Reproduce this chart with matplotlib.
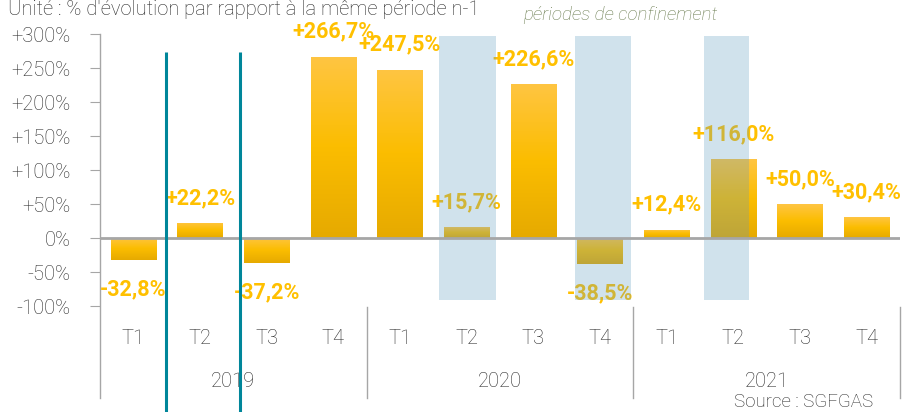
import matplotlib
matplotlib.use("Agg")
import matplotlib.pyplot as plt
import numpy as np
from matplotlib.colors import LinearSegmentedColormap
from matplotlib import transforms

# ---- data ----
quarters = ["T1", "T2", "T3", "T4"] * 3
years = ["2019", "2020", "2021"]
values = [-32.8, 22.2, -37.2, 266.7, 247.5, 15.7, 226.6, -38.5, 12.4, 116.0, 50.0, 30.4]
labels = ["-32,8%", "+22,2%", "-37,2%", "+266,7%", "+247,5%", "+15,7%", "+226,6%",
          "-38,5%", "+12,4%", "+116,0%", "+50,0%", "+30,4%"]
yticks = [-100, -50, 0, 50, 100, 150, 200, 250, 300]
ytick_labels = ["-100%", "-50%", "0%", "+50%", "+100%", "+150%", "+200%", "+250%", "+300%"]
# confinement periods (category index spans)
conf_start = [4.585, 6.625, 8.56]
conf_end = [5.44, 7.465, 9.235]
conf_low, conf_high = -91, 297

plt.rcParams['font.family'] = ['Roboto', 'DejaVu Sans']

fig = plt.figure(figsize=(9.02, 4.12), dpi=100)
ax = fig.add_axes([100 / 902, 1 - 306 / 412, 800 / 902, 272 / 412])

x = np.arange(len(values))
bars = ax.bar(x, values, width=0.68, color="#fbbd00", zorder=2)

cmap = LinearSegmentedColormap.from_list("g", ["#ffc542", "#fbbd00", "#e6aa00"])
grad = np.linspace(0, 1, 100).reshape(-1, 1)
for b in bars:
    x0, y0 = b.get_x(), b.get_y()
    w, h = b.get_width(), b.get_height()
    ylo, yhi = min(y0, y0 + h), max(y0, y0 + h)
    im = ax.imshow(grad, cmap=cmap, extent=(x0, x0 + w, ylo, yhi), origin="upper",
                   aspect="auto", zorder=2.1)
    im.set_clip_path(b)

# value labels
for xi, v, lab in zip(x, values, labels):
    off = 18 if v >= 0 else -21
    ax.annotate(lab, (xi, v), xytext=(0, off), textcoords="offset points",
                ha="center", va="center", fontsize=15.5, fontweight="bold",
                color="#ffc000", zorder=3)

# confinement bands (over bars)
for s, e in zip(conf_start, conf_end):
    ax.fill_between([s, e], conf_low, conf_high, color="#5f9bbe", alpha=0.29,
                    linewidth=0, zorder=4)

ax.axhline(0, color="#a6a6a6", lw=2, zorder=5)

ax.set_xlim(-0.5, 11.5)
ax.set_ylim(-100, 300)
ax.set_yticks(yticks)
ax.set_yticklabels(ytick_labels, fontsize=14.5, color="#2a2a2a", fontweight="light")
ax.tick_params(axis="y", length=7, color="#a6a6a6", pad=14)
ax.set_xticks([])
for sp in ax.spines.values():
    sp.set_visible(False)

trans = transforms.blended_transform_factory(ax.transData, ax.transAxes)
# left spine
ax.plot([-0.5, -0.5], [1, -0.338], transform=trans, color="#a6a6a6", lw=1, clip_on=False)
# year separators
for sx in [3.5, 7.5, 11.5]:
    ax.plot([sx, sx], [-0.004, -0.338], transform=trans, color="#a6a6a6", lw=1, clip_on=False)
# quarter labels
for xi, q in zip(x, quarters):
    ax.text(xi, -0.118, q, transform=trans, ha="center", va="center",
            fontsize=14.5, color="#2a2a2a", fontweight="light")
for i, yr in enumerate(years):
    ax.text(4 * i + 1.5, -0.279, yr, transform=trans, ha="center", va="center",
            fontsize=14.5, color="#2a2a2a", fontweight="light")

# teal annotation lines
for lx in [0.49, 1.6]:
    ax.plot([lx, lx], [0.934, -0.40], transform=trans, color="#00869a", lw=2.2,
            clip_on=False, zorder=6, solid_capstyle="butt")

fig.text(8 / 902, 1 - 15 / 412, "Unité : % d'évolution par rapport à la même période n-1",
         ha="left", va="baseline", fontsize=14.5, color="#2a2a2a", fontweight="light")
fig.text(523 / 902, 1 - 15 / 412, "périodes de confinement", ha="left", va="center",
         fontsize=13.5, style="italic", color="#6b7d50", fontweight="light")
fig.text(873 / 902, 1 - 402 / 412, "Source : SGFGAS", ha="right", va="center",
         fontsize=13.5, color="#2a2a2a", fontweight="light")

fig.savefig("out.png", dpi=100)
